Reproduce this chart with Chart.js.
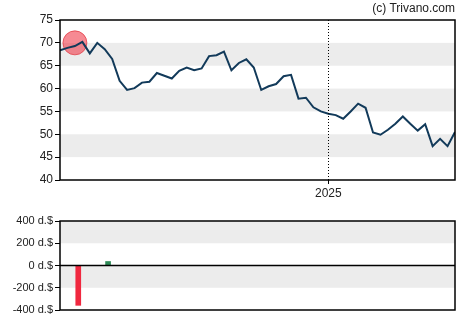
<!DOCTYPE html>
<html>
<head>
<meta charset="utf-8">
<script src="https://cdn.jsdelivr.net/npm/chart.js@4/dist/chart.umd.min.js"></script>
<style>
  body { margin: 0; background: #fff; }
  #wrap { position: relative; width: 470px; height: 325px; }
  canvas { position: absolute; left: 0; }
  #price { top: 0; }
  #flows { top: 200px; }
  #credit { position: absolute; right: 15px; top: 1px; font: 12px "Liberation Sans", Arial, sans-serif; color: #222; }
</style>
</head>
<body>
<div id="wrap">
  <canvas id="price" width="470" height="200"></canvas>
  <canvas id="flows" width="470" height="125"></canvas>
  <div id="credit">(c) Trivano.com</div>
</div>
<script>
// weekly closing prices
const closes = [68.4, 68.9, 69.3, 70.2, 67.7, 70.0, 68.6, 66.5, 61.7, 59.7,
                60.1, 61.3, 61.5, 63.4, 62.8, 62.2, 63.9, 64.6, 64.0, 64.4,
                67.1, 67.3, 68.1, 64.0, 65.6, 66.4, 64.6, 59.7, 60.5, 61.0,
                62.7, 63.0, 57.8, 58.0, 55.9, 55.0, 54.5, 54.2, 53.4, 55.0,
                56.7, 55.8, 50.4, 49.9, 51.0, 52.3, 53.9, 52.3, 50.8, 52.2,
                47.4, 49.0, 47.4, 50.5];
const yearTicks = [36];
const yearLabels = ['2025'];
const markIndex = [2];
const markValue = [70];

// insider flows
const flowPos = [2.45, 6.45];
const flowVals = [-358, 36];
const flowColors = ['#f0283f', '#2e8b57'];

const priceTicks = [40, 45, 50, 55, 60, 65, 70, 75];
const priceBands = [[45, 50], [55, 60], [65, 70]];
const flowTicks = [-400, -200, 0, 200, 400];
const flowBands = [[200, 400], [-200, 0]];

const FONT = { family: '"Liberation Sans", Arial, sans-serif', size: 12 };
const INK = '#222';

function bandsPlugin(bands, extra) {
  return {
    id: 'bands',
    beforeDatasetsDraw(chart) {
      const { ctx, chartArea: a, scales } = chart;
      ctx.save();
      ctx.fillStyle = '#ececec';
      bands.forEach(([lo, hi]) => {
        const y1 = scales.y.getPixelForValue(hi);
        const y2 = scales.y.getPixelForValue(lo);
        ctx.fillRect(a.left, y1, a.right - a.left, y2 - y1);
      });
      ctx.restore();
    },
    afterDatasetsDraw(chart) {
      const { ctx, chartArea: a } = chart;
      ctx.save();
      if (extra) extra(chart);
      ctx.strokeStyle = '#000';
      ctx.lineWidth = 1.5;
      ctx.strokeRect(a.left, a.top, a.right - a.left, a.bottom - a.top);
      ctx.restore();
    }
  };
}

function yAxis(min, max, ticks, fmt, size) {
  return {
    min: min, max: max,
    afterBuildTicks: s => { s.ticks = ticks.map(v => ({ value: v })); },
    afterFit: s => { s.width = 60; },
    border: { display: false },
    grid: { drawOnChartArea: false, drawTicks: true, tickLength: 5, color: '#000' },
    ticks: { color: INK, padding: 2, font: { family: FONT.family, size: size }, callback: fmt }
  };
}

new Chart(document.getElementById('price'), {
  type: 'line',
  data: {
    datasets: [{
      data: closes.map((v, i) => ({ x: i, y: v })),
      borderColor: '#123a5a',
      borderWidth: 2,
      pointRadius: 0,
      tension: 0
    }, {
      data: markIndex.map((x, i) => ({ x: x, y: markValue[i] })),
      showLine: false,
      pointRadius: 12,
      pointBackgroundColor: 'rgba(240, 60, 75, 0.6)',
      pointBorderColor: 'rgba(225, 50, 60, 0.7)',
      pointBorderWidth: 1
    }]
  },
  options: {
    responsive: false,
    animation: false,
    layout: { padding: { top: 20, right: 15, left: 0, bottom: 0 } },
    plugins: { legend: { display: false }, tooltip: { enabled: false } },
    scales: {
      x: {
        type: 'linear', min: 0, max: closes.length - 1,
        afterBuildTicks: s => { s.ticks = yearTicks.map(v => ({ value: v })); },
        afterFit: s => { s.height = 20; },
        border: { display: false },
        grid: { drawOnChartArea: false, drawTicks: true, tickLength: 4, color: '#000' },
        ticks: { color: INK, padding: 2, font: FONT, maxRotation: 0,
                 callback: v => yearLabels[yearTicks.indexOf(v)] }
      },
      y: yAxis(40, 75, priceTicks, v => v, 12)
    }
  },
  plugins: [bandsPlugin(priceBands, chart => {
    // dotted marker at the year change
    const { ctx, chartArea: a, scales } = chart;
    ctx.strokeStyle = '#000';
    ctx.lineWidth = 1;
    ctx.setLineDash([1, 2]);
    yearTicks.forEach(v => {
      const x = Math.round(scales.x.getPixelForValue(v)) + 0.5;
      ctx.beginPath();
      ctx.moveTo(x, a.top);
      ctx.lineTo(x, a.bottom);
      ctx.stroke();
    });
    ctx.setLineDash([]);
  })]
});

new Chart(document.getElementById('flows'), {
  type: 'bar',
  data: {
    datasets: [{
      data: flowPos.map((x, i) => ({ x: x, y: flowVals[i] })),
      backgroundColor: flowColors,
      barThickness: 5
    }]
  },
  options: {
    responsive: false,
    animation: false,
    layout: { padding: { top: 21, right: 15, left: 0, bottom: 15 } },
    plugins: { legend: { display: false }, tooltip: { enabled: false } },
    scales: {
      x: { type: 'linear', min: 0, max: closes.length - 1, offset: false, display: false },
      y: yAxis(-400, 400, flowTicks, v => v + ' d.$', 11)
    }
  },
  plugins: [bandsPlugin(flowBands, chart => {
    // zero line across the flow panel
    const { ctx, chartArea: a, scales } = chart;
    const y0 = scales.y.getPixelForValue(0);
    ctx.strokeStyle = '#000';
    ctx.lineWidth = 1.5;
    ctx.beginPath();
    ctx.moveTo(a.left, y0);
    ctx.lineTo(a.right, y0);
    ctx.stroke();
  })]
});
</script>
</body>
</html>
